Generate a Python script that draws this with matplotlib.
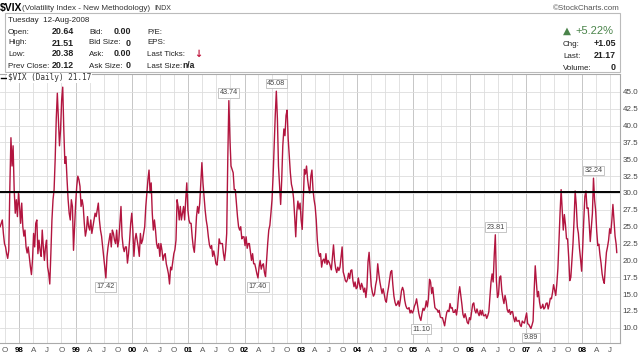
import numpy as np
import pandas as pd
import matplotlib
matplotlib.use('Agg')
import matplotlib.pyplot as plt
from matplotlib.patches import Rectangle
from matplotlib.lines import Line2D

# weekly closes (Fridays), one list per year
vix_1997 = [25, 25.5, 26, 24, 22.5, 22, 21, 20.3, 21.5, 31, 38.2, 34, 37, 30.5, 27, 29, 26.5, 30]
vix_1998 = [28, 25.5, 28.5, 25, 23.6, 24.5, 22, 21.1, 22, 20.5, 19.1, 17.9, 20.1, 24, 22, 25.5,
            26, 21, 23, 21.5, 20.6, 24.5, 22, 20, 22, 23, 19, 18.1, 16.5, 21, 26, 29, 30.5, 35,
            41, 44.8, 40.8, 37, 39.4, 43.8, 45.7, 39.4, 34.4, 35.4, 32, 29, 27, 26, 29, 28, 21.5, 25]
vix_1999 = [28.5, 31, 32.5, 32, 31, 28, 29, 28, 25.5, 23.6, 24.5, 26.5, 25, 24.5, 26, 24, 25, 26,
            27, 26.5, 27.5, 28.5, 26, 24.5, 23.6, 22, 20.5, 19, 17.4, 20.5, 22, 23, 24, 22, 24.5,
            24, 23, 22.5, 24.5, 22, 23, 25.5, 28, 23.6, 22, 21.3, 22, 22, 19.6, 21, 23, 25.5, 27]
vix_2000 = [24.5, 20.6, 23, 24, 23, 22, 20.6, 24, 22.5, 23, 24, 25, 28, 30, 32, 33.4, 30, 31.5,
            27, 24.5, 26, 24.5, 22.5, 21.8, 22.5, 20.6, 22.5, 21.5, 20, 20.8, 21, 19.5, 18.8, 18,
            16.5, 19, 18.6, 19.8, 21, 21.6, 23, 29, 28, 26, 28, 26, 27, 28, 26, 29, 31.5, 27.5]
vix_2001 = [26, 25.5, 25.5, 23.5, 22, 21.2, 23.5, 26.5, 28, 27, 28.5, 31.5, 34.5, 31.5, 29.5,
            27.5, 26, 25, 23.5, 22.3, 21.8, 22.2, 20.6, 21.4, 20.6, 19.5, 19.3, 20.8, 23.2, 22.5,
            22.5, 22.5, 21, 20, 21.5, 24, 35, 43.7, 38, 34, 33.5, 33, 30.5, 30.5, 28.5, 26.5, 25,
            24.5, 25, 23.2, 23.5, 23.5]
vix_2002 = [22.2, 23.5, 21.8, 22.5, 22.5, 21.3, 20, 21, 19.5, 19.5, 18.8, 18, 17.4, 19, 20, 18.7,
            19.3, 19.5, 18.2, 17.6, 20, 22.5, 24.5, 25.2, 27, 29, 32.5, 37, 41.5, 45.1, 41, 34,
            31, 28.3, 32, 37, 39.5, 38.5, 41.5, 42.3, 38, 35.5, 33, 31.3, 30.6, 29.2, 26.5, 23.5,
            27.2, 28.8, 27.6, 28.5]
vix_2003 = [26, 24.6, 29, 33.5, 32.8, 34, 32, 30.8, 30, 32.5, 33.4, 30.5, 29, 28, 26, 23, 21.3,
            20.6, 21, 19, 20, 20.2, 19.6, 21, 19.4, 20, 19.7, 19.2, 18.6, 20.4, 22.3, 20, 18.8,
            18.2, 19, 18.5, 19, 20.5, 22, 18.3, 17.7, 17, 16.8, 17.2, 18.1, 17.3, 18.5, 18.6, 17,
            16.1, 16.8, 15.8]
vix_2004 = [16, 17.4, 16.5, 15.7, 16.6, 16.1, 15.3, 15.9, 14.5, 16, 19.8, 21.2, 18.5, 16.2, 15.3,
            14.7, 15, 16.3, 17.1, 19.5, 18, 16.8, 15.9, 15.1, 15.8, 15, 14.1, 13.8, 15.1, 16, 17.2,
            18.3, 18.5, 16.4, 14.7, 13.8, 13.3, 13.5, 14, 13.2, 14.2, 15.5, 16, 15.5, 14.1, 13.3,
            12.9, 12.8, 13, 12.2, 12.6, 12.2, 12.5]
vix_2005 = [13.2, 13.6, 14.3, 13.2, 12.2, 11.5, 11.1, 12.1, 12.9, 12.6, 13, 14, 13.1, 14.3, 17.2,
            16.8, 15.1, 16, 14.4, 13, 12.8, 12.7, 12.3, 12.6, 11.6, 11.5, 11.5, 10.9, 10.3, 11.4,
            12.3, 12.6, 12.4, 13.6, 12.9, 13, 12.3, 12.3, 12.7, 11.9, 13, 15, 16.1, 14.8, 13.5, 12,
            11.5, 12.1, 11.5, 10.8, 10.6, 11.5]
vix_2006 = [11.2, 12.3, 13.5, 13.7, 12.6, 12.2, 12.8, 12.2, 11.8, 12.6, 11.9, 12.6, 11.8, 11.8, 12,
            11.4, 11.8, 12.4, 14.5, 16.8, 18, 16.8, 20.8, 23.8, 17, 14.5, 15, 17.5, 17.7, 15.5,
            14.4, 13.6, 14.8, 14, 12.7, 12.3, 12.7, 12, 12.4, 12.4, 11.5, 10.9, 11.6, 11, 11, 11.1,
            10.4, 10.2, 11, 10.8, 10.7, 11.5]
vix_2007 = [12.2, 10.6, 10.5, 10.2, 9.9, 10.4, 11, 15.5, 19.2, 17, 14.6, 15.4, 13.8, 12.9, 13,
            13.5, 12.8, 13, 13.6, 13.7, 12.8, 13.5, 14.4, 14.3, 15.2, 16.4, 15.6, 14.8, 16.5, 18.8,
            23, 27, 30.5, 27.5, 24.5, 26.8, 25.3, 23.2, 23.2, 20.5, 17, 17.5, 20, 22.5, 26, 30.3,
            28.3, 25, 24, 21.8, 20.2, 18.4]
vix_2008 = [22, 26, 29.5, 30.3, 27.7, 27.8, 25.5, 22.8, 25, 27, 32.2, 29, 27.4, 24.3, 22.2, 22.4,
            20.8, 19.6, 18, 17.1, 16.6, 19.1, 21.2, 22, 23, 24.7, 24, 25.9, 28.3, 26, 23.6, 22.4]
last_date = '2008-08-12'
last_close = 21.17

hline_level = 30.2

# labelled highs / lows
ann_dates = ['1999-07-16', '2001-09-21', '2002-03-29', '2002-07-26',
             '2005-02-18', '2006-06-16', '2007-02-02', '2008-03-14']
ann_labels = ['17.42', '43.74', '17.40', '45.08', '11.10', '23.81', '9.89', '32.24']
ann_side = ['low', 'high', 'low', 'high', 'low', 'high', 'low', 'high']

weekly = (vix_1997 + vix_1998 + vix_1999 + vix_2000 + vix_2001 + vix_2002 + vix_2003
          + vix_2004 + vix_2005 + vix_2006 + vix_2007 + vix_2008)
dates = pd.date_range('1997-08-29', periods=len(weekly), freq='W-FRI')
dates = dates.append(pd.DatetimeIndex([last_date]))
vix = pd.Series(weekly + [last_close], index=dates)

W, H = 640, 355
fig = plt.figure(figsize=(W / 100, H / 100), dpi=100)
plt.rcParams['font.family'] = ['Liberation Sans', 'DejaVu Sans']


def px(x, y):
    return x / W, 1 - y / H


def ftext(x, y, s, **kw):
    kw.setdefault('fontsize', 5.8)
    kw.setdefault('va', 'center')
    kw.setdefault('color', '#222222')
    fig.text(*px(x, y), s, **kw)


# header
ftext(0, 8, '$VIX', fontsize=7.5, fontweight='bold', color='black')
ftext(22, 8.5, '(Volatility Index - New Methodology)', color='#333333')
ftext(154, 8.5, 'INDX', fontsize=5, color='#333333')
ftext(620, 8, '\u00a9StockCharts.com', ha='right', color='#555555')
fig.patches.append(Rectangle(px(5, 72), 615 / W, 59 / H, transform=fig.transFigure,
                             fill=False, edgecolor='#bbbbbb', lw=0.8))

ftext(8, 20, 'Tuesday  12-Aug-2008')
rows_y = [32, 43, 54, 66]
col1 = [('Open:', '20.64'), ('High:', '21.51'), ('Low:', '20.38'), ('Prev Close:', '20.12')]
col2 = [('Bid:', '0.00'), ('Bid Size:', '0'), ('Ask:', '0.00'), ('Ask Size:', '0')]
col3 = ['P/E:', 'EPS:', 'Last Ticks:', 'Last Size:']
for y, (a, b), (c, d), e in zip(rows_y, col1, col2, col3):
    ftext(8, y, a)
    ftext(74, y, b, ha='right', fontweight='bold', fontsize=6.4)
    ftext(89, y, c)
    ftext(131, y, d, ha='right', fontweight='bold', fontsize=6.4)
    ftext(147, y, e)
ftext(198, 54, '\u2193', ha='center', color='#c0143c', fontweight='bold', fontsize=7,
      family='DejaVu Sans')
ftext(182, 66, 'n/a', fontweight='bold', fontsize=6.2)

ftext(563, 31, '\u25b2', color='#4a844a', fontsize=7.5, family='DejaVu Sans')
ftext(613, 31, '+5.22%', ha='right', color='#4a844a', fontsize=8)
for y, a, b in [(44, 'Chg:', '+1.05'), (56, 'Last:', '21.17'), (68, 'Volume:', '0')]:
    ftext(563, y, a)
    ftext(616, y, b, ha='right', fontweight='bold', fontsize=6.4)

# chart panel
ax = fig.add_axes([0, 12 / H, 620 / W, 269 / H])
ax.plot(vix.index, vix.values, color='#b2153f', lw=1.0, zorder=3)
ax.axhline(hline_level, color='black', lw=1.4, zorder=4)

for d, lab, side in zip(ann_dates, ann_labels, ann_side):
    i = vix.index.get_indexer([pd.Timestamp(d)], method='nearest')[0]
    dy = 5.5 if side == 'high' else -6.5
    ax.annotate(lab, (vix.index[i], vix.values[i]), xytext=(0, dy), textcoords='offset points',
                ha='center', va='center', fontsize=5.2, color='#444444', zorder=5,
                bbox=dict(boxstyle='square,pad=0.2', fc='white', ec='#bbbbbb', lw=0.6))

ax.set_xlim(pd.Timestamp('1997-08-28'), pd.Timestamp('2008-09-02'))
ax.set_ylim(7.75, 47.65)

qticks = pd.date_range('1997-10-01', '2008-07-01', freq='QS')
month_letter = {1: '', 4: 'A', 7: 'J', 10: 'O'}
qlabels = ['%02d' % (t.year % 100) if t.month == 1 else month_letter[t.month] for t in qticks]
ax.set_xticks(qticks)
ax.set_xticklabels(qlabels)
for t, lab in zip(qticks, ax.get_xticklabels()):
    if t.month == 1:
        lab.set_fontweight('bold')
        lab.set_color('black')
    else:
        lab.set_color('#555555')

ax.set_yticks(np.arange(10, 45.1, 2.5))
ax.yaxis.set_major_formatter(matplotlib.ticker.FormatStrFormatter('%.1f'))
ax.yaxis.tick_right()
ax.tick_params(axis='both', length=0, labelsize=5.8)
ax.tick_params(axis='y', pad=2, labelcolor='#444444')
ax.tick_params(axis='x', pad=3)

ax.grid(True, color='#dddddd', lw=0.6, zorder=0)
for t, gl in zip(qticks, ax.xaxis.get_gridlines()):
    if t.month == 1:
        gl.set_color('#bdbdbd')

for name, sp in ax.spines.items():
    sp.set_color('#aaaaaa')
    sp.set_linewidth(0.8)
ax.spines['left'].set_visible(False)

# legend line
fig.add_artist(Line2D([1 / W, 6 / W], [1 - 78 / H, 1 - 78 / H], color='black', lw=1.0, zorder=10))
fig.text(*px(8, 78), '$VIX (Daily) 21.17', family='DejaVu Sans Mono', fontsize=5.6,
         color='#333333', va='center', zorder=10,
         bbox=dict(boxstyle='square,pad=0.1', fc='white', ec='none'))

fig.savefig('out.png', dpi=100)
